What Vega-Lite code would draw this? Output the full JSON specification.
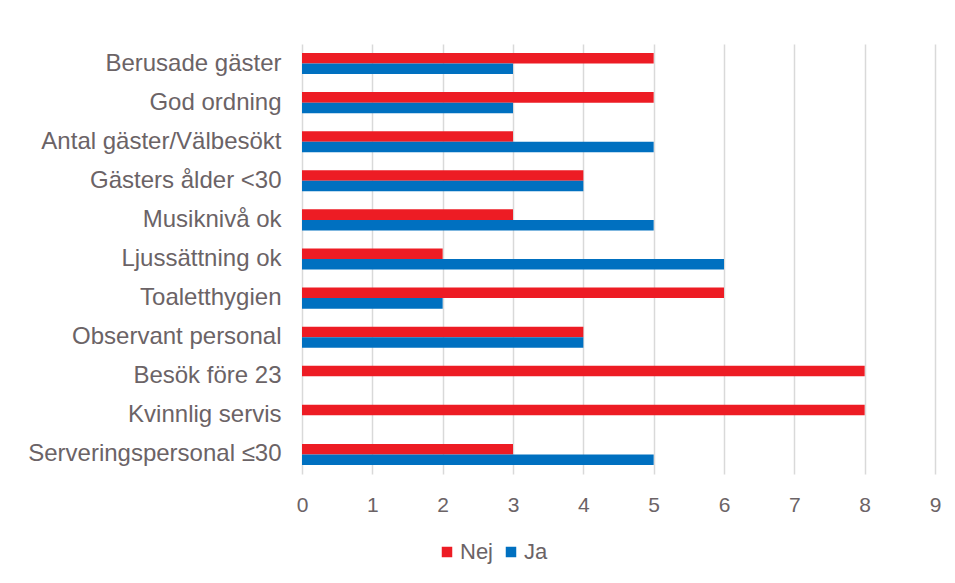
{
  "$schema": "https://vega.github.io/schema/vega-lite/v6.json",
  "width": 633,
  "height": 430,
  "autosize": {"type": "none"},
  "padding": {"left": 302, "top": 44, "right": 20, "bottom": 109},
  "background": "white",
  "config": {
    "view": {"stroke": null},
    "font": "Liberation Sans"
  },
  "data": {
    "values": [
      {"cat": "Berusade gäster", "grp": "Nej", "v": 5},
      {"cat": "Berusade gäster", "grp": "Ja", "v": 3},
      {"cat": "God ordning", "grp": "Nej", "v": 5},
      {"cat": "God ordning", "grp": "Ja", "v": 3},
      {"cat": "Antal gäster/Välbesökt", "grp": "Nej", "v": 3},
      {"cat": "Antal gäster/Välbesökt", "grp": "Ja", "v": 5},
      {"cat": "Gästers ålder <30", "grp": "Nej", "v": 4},
      {"cat": "Gästers ålder <30", "grp": "Ja", "v": 4},
      {"cat": "Musiknivå ok", "grp": "Nej", "v": 3},
      {"cat": "Musiknivå ok", "grp": "Ja", "v": 5},
      {"cat": "Ljussättning ok", "grp": "Nej", "v": 2},
      {"cat": "Ljussättning ok", "grp": "Ja", "v": 6},
      {"cat": "Toaletthygien", "grp": "Nej", "v": 6},
      {"cat": "Toaletthygien", "grp": "Ja", "v": 2},
      {"cat": "Observant personal", "grp": "Nej", "v": 4},
      {"cat": "Observant personal", "grp": "Ja", "v": 4},
      {"cat": "Besök före 23", "grp": "Nej", "v": 8},
      {"cat": "Besök före 23", "grp": "Ja", "v": 0},
      {"cat": "Kvinnlig servis", "grp": "Nej", "v": 8},
      {"cat": "Kvinnlig servis", "grp": "Ja", "v": 0},
      {"cat": "Serveringspersonal ≤30", "grp": "Nej", "v": 3},
      {"cat": "Serveringspersonal ≤30", "grp": "Ja", "v": 5}
    ]
  },
  "mark": {"type": "bar"},
  "encoding": {
    "y": {
      "field": "cat",
      "type": "nominal",
      "sort": null,
      "scale": {"paddingInner": 0.46, "paddingOuter": 0.23},
      "axis": {
        "title": null,
        "ticks": false,
        "domain": false,
        "labelFontSize": 24,
        "labelColor": "#6b6366",
        "labelPadding": 21,
        "labelLimit": 300
      }
    },
    "yOffset": {"field": "grp", "type": "nominal", "sort": ["Nej", "Ja"]},
    "x": {
      "field": "v",
      "type": "quantitative",
      "scale": {"domain": [0, 9], "nice": false},
      "axis": {
        "title": null,
        "values": [0,1,2,3,4,5,6,7,8,9],
        "ticks": false,
        "domain": false,
        "grid": true,
        "gridColor": "#d9d9d9",
        "gridWidth": 1.5,
        "labelOverlap": false,
        "labelBound": false,
        "labelFlush": false,
        "labelFontSize": 21,
        "labelColor": "#6b6366",
        "labelPadding": 20
      }
    },
    "color": {
      "field": "grp",
      "type": "nominal",
      "sort": ["Nej", "Ja"],
      "scale": {"domain": ["Nej", "Ja"], "range": ["#ED1C24", "#0070C0"]},
      "legend": {
        "title": null,
        "orient": "none",
        "direction": "horizontal",
        "legendX": 134,
        "legendY": 497,
        "symbolType": "square",
        "symbolSize": 110,
        "symbolStrokeWidth": 0,
        "labelFontSize": 22,
        "labelColor": "#6b6366",
        "labelOffset": 2,
        "columnPadding": 6
      }
    }
  }
}
